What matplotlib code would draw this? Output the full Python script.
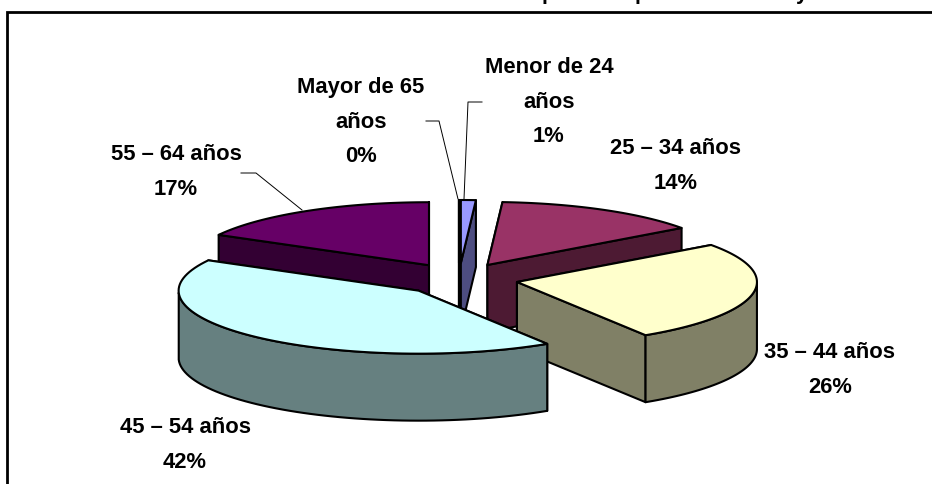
import numpy as np
from matplotlib import pyplot as plt
from matplotlib.patches import Polygon

labels = ['Menor de 24\naños', '25 – 34 años', '35 – 44 años', '45 – 54 años', '55 – 64 años', 'Mayor de 65\naños']
shares = [1, 14, 26, 42, 17, 0]
top_colors = ['#9999ff', '#993366', '#ffffcc', '#ccffff', '#660066', '#ff8080']
side_colors = ['#4d4d80', '#4d1a33', '#808066', '#668080', '#330033', '#804040']

# pie geometry in pixels
cx, cy = 459, 279
rx, ry = 240, 63
depth = 67
explode_x, explode_y = 59, 16

plt.rcParams['font.family'] = ['Liberation Sans', 'DejaVu Sans']

fig = plt.figure(figsize=(9.32, 4.84), dpi=100)
ax = fig.add_axes([0, 0, 1, 1])
ax.set_xlim(0, 932)
ax.set_ylim(484, 0)
ax.axis('off')

edges = np.cumsum([0] + shares) / sum(shares) * 2 * np.pi


def rim(a0, a1, ox, oy):
    t = np.linspace(a0, a1, 80)
    return ox + rx * np.sin(t), oy - ry * np.cos(t)


def draw_slice(i, z):
    a0, a1 = edges[i], edges[i + 1]
    mid = (a0 + a1) / 2
    ox = cx + explode_x * np.sin(mid)
    oy = cy - explode_y * np.cos(mid)
    xs, ys = rim(a0, a1, ox, oy)
    line = dict(edgecolor='black', linewidth=1.5, joinstyle='round', zorder=z)
    # cut faces, back one first
    for a in sorted([a0, a1], key=lambda v: -np.cos(v)):
        ex, ey = rim(a, a, ox, oy)
        face = [(ox, oy), (ex[0], ey[0]), (ex[0], ey[0] + depth), (ox, oy + depth)]
        ax.add_patch(Polygon(face, facecolor=side_colors[i], **line))
    # outer wall, only the part that faces the viewer
    front = np.cos(np.linspace(a0, a1, 80)) < 0
    if front.any():
        wx, wy = xs[front], ys[front]
        wall = np.r_[np.c_[wx, wy], np.c_[wx[::-1], wy[::-1] + depth]]
        ax.add_patch(Polygon(wall, facecolor=side_colors[i], **line))
    ax.add_patch(Polygon(np.r_[[(ox, oy)], np.c_[xs, ys]], facecolor=top_colors[i], **line))


# back to front
for z, i in enumerate([5, 4, 0, 1, 2, 3]):
    draw_slice(i, 2 + z)

# frame, open on the right and at the bottom
ax.plot([7, 7, 932], [484, 12, 12], color='black', lw=2, solid_joinstyle='miter', zorder=1)

# title is cut off at the top of the picture, only descenders show
for x, ch in [(548, 'p'), (641, 'p'), (802, 'y')]:
    ax.text(x, -1, ch, fontsize=15.5, fontweight='bold', ha='center', va='baseline', zorder=9)

# data labels
label_pos = [(549, 102), (676, 166), (830, 370), (185, 445), (176, 172), (361, 122)]
for i, (x, y) in enumerate(label_pos):
    txt = labels[i] + '\n' + str(shares[i]) + '%'
    ax.text(x, y, txt, fontsize=15.8, fontweight='bold', ha='center', va='center',
            linespacing=1.86, zorder=10)

# leader lines
leaders = [[(482, 102), (468, 102), (464, 199)],
           [(426, 121), (439, 121), (458, 199)],
           [(241, 173), (256, 173), (302, 210)]]
for pts in leaders:
    ax.plot(*zip(*pts), color='black', lw=0.7, zorder=11)

fig.savefig('out.png', dpi=100)
